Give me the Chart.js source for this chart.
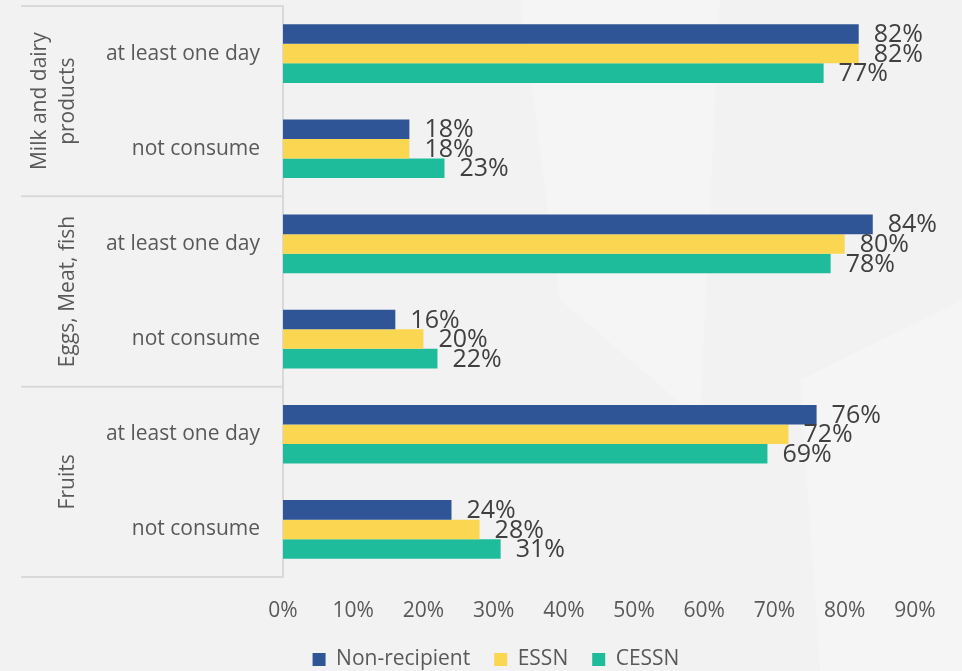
<!DOCTYPE html>
<html>
<head>
<meta charset="utf-8">
<script src="https://cdn.jsdelivr.net/npm/chart.js@4.4.0/dist/chart.umd.min.js"></script>
<style>
  html, body { margin: 0; padding: 0; background: #f2f2f2; }
  #wrap { width: 962px; height: 671px; position: relative; }
</style>
</head>
<body>
<div id="wrap"><canvas id="myChart"></canvas></div>
<script>
var categories = ["at least one day", "not consume", "at least one day", "not consume", "at least one day", "not consume"];
var groups = [["Milk and dairy", "products"], ["Eggs, Meat, fish"], ["Fruits"]];
var nonRecipient = [82, 18, 84, 16, 76, 24];
var essn = [82, 18, 80, 20, 72, 28];
var cessn = [77, 23, 78, 22, 69, 31];
var xTicks = [0, 10, 20, 30, 40, 50, 60, 70, 80, 90];

var textColor = "#595959";
var fontFamily = "'Open Sans', 'Noto Sans', sans-serif";

// subtle lighter shapes in the background
var bgPlugin = {
  id: "bg",
  beforeDraw: function (chart) {
    var ctx = chart.ctx;
    ctx.save();
    ctx.fillStyle = "#f2f2f2";
    ctx.fillRect(0, 0, chart.width, chart.height);
    ctx.fillStyle = "rgba(255,255,255,0.22)";
    ctx.beginPath();
    ctx.moveTo(520, 0); ctx.lineTo(720, 0); ctx.lineTo(700, 420); ctx.lineTo(560, 300);
    ctx.closePath(); ctx.fill();
    ctx.beginPath();
    ctx.moveTo(800, 380); ctx.lineTo(962, 300); ctx.lineTo(962, 671); ctx.lineTo(820, 671);
    ctx.closePath(); ctx.fill();
    ctx.restore();
  }
};

// group boxes and rotated group names on the left
var groupPlugin = {
  id: "groups",
  afterDraw: function (chart) {
    var ctx = chart.ctx;
    var y = chart.scales.y;
    var area = chart.chartArea;
    var band = (y.getPixelForValue(1) - y.getPixelForValue(0));
    ctx.save();
    ctx.strokeStyle = "#d9d9d9";
    ctx.lineWidth = 2;
    for (var g = 0; g <= groups.length; g++) {
      var py = g < groups.length ? y.getPixelForValue(g * 2) - band / 2 : y.getPixelForValue(g * 2 - 1) + band / 2;
      ctx.beginPath();
      ctx.moveTo(21, py);
      ctx.lineTo(area.left, py);
      ctx.stroke();
    }
    ctx.fillStyle = textColor;
    ctx.font = "21px " + fontFamily;
    ctx.textAlign = "center";
    ctx.textBaseline = "middle";
    for (var i = 0; i < groups.length; i++) {
      var cy = (y.getPixelForValue(i * 2) + y.getPixelForValue(i * 2 + 1)) / 2;
      var lines = groups[i];
      for (var l = 0; l < lines.length; l++) {
        var cx = 68 - (lines.length - 1 - l) * 28;
        ctx.save();
        ctx.translate(cx, cy);
        ctx.rotate(-Math.PI / 2);
        ctx.fillText(lines[l], 0, 0);
        ctx.restore();
      }
    }
    ctx.restore();
  }
};

// value labels at the end of each bar
var labelPlugin = {
  id: "valueLabels",
  afterDatasetsDraw: function (chart) {
    var ctx = chart.ctx;
    ctx.save();
    ctx.fillStyle = "#404040";
    ctx.font = "25px " + fontFamily;
    ctx.textAlign = "left";
    ctx.textBaseline = "middle";
    chart.data.datasets.forEach(function (ds, di) {
      chart.getDatasetMeta(di).data.forEach(function (bar, i) {
        ctx.fillText(ds.data[i] + "%", bar.x + 15, bar.y + 1);
      });
    });
    ctx.restore();
  }
};

new Chart("myChart", {
  type: "bar",
  data: {
    labels: categories,
    datasets: [
      { label: "Non-recipient", data: nonRecipient, backgroundColor: "#2f5597" },
      { label: "ESSN", data: essn, backgroundColor: "#fbd651" },
      { label: "CESSN", data: cessn, backgroundColor: "#1fbc9c" }
    ]
  },
  options: {
    indexAxis: "y",
    responsive: true,
    maintainAspectRatio: false,
    animation: false,
    categoryPercentage: 0.617,
    barPercentage: 1.0,
    layout: { autoPadding: false, padding: { left: 42, right: 12, top: 6, bottom: -9 } },
    scales: {
      x: {
        min: 0,
        max: 95,
        grid: { display: false, drawTicks: false },
        border: { display: false },
        afterBuildTicks: function (scale) {
          scale.ticks = xTicks.map(function (v) { return { value: v }; });
        },
        afterFit: function (scale) { scale.height = 48; },
        ticks: {
          color: textColor,
          font: { size: 21, family: fontFamily },
          padding: 21,
          callback: function (v) { return v + "%"; }
        }
      },
      y: {
        grid: { display: false, drawTicks: false },
        border: { display: true, color: "#d9d9d9", width: 2 },
        afterFit: function (scale) {
          scale.width = 241;
          scale.paddingTop = 0;
          scale.paddingBottom = 0;
        },
        ticks: {
          color: textColor,
          font: { size: 21, family: fontFamily },
          padding: 23
        }
      }
    },
    plugins: {
      legend: {
        position: "bottom",
        labels: {
          color: textColor,
          font: { size: 21, family: fontFamily },
          boxWidth: 13,
          boxHeight: 13,
          padding: 24
        }
      },
      tooltip: { enabled: false }
    }
  },
  plugins: [bgPlugin, groupPlugin, labelPlugin]
});
</script>
</body>
</html>
